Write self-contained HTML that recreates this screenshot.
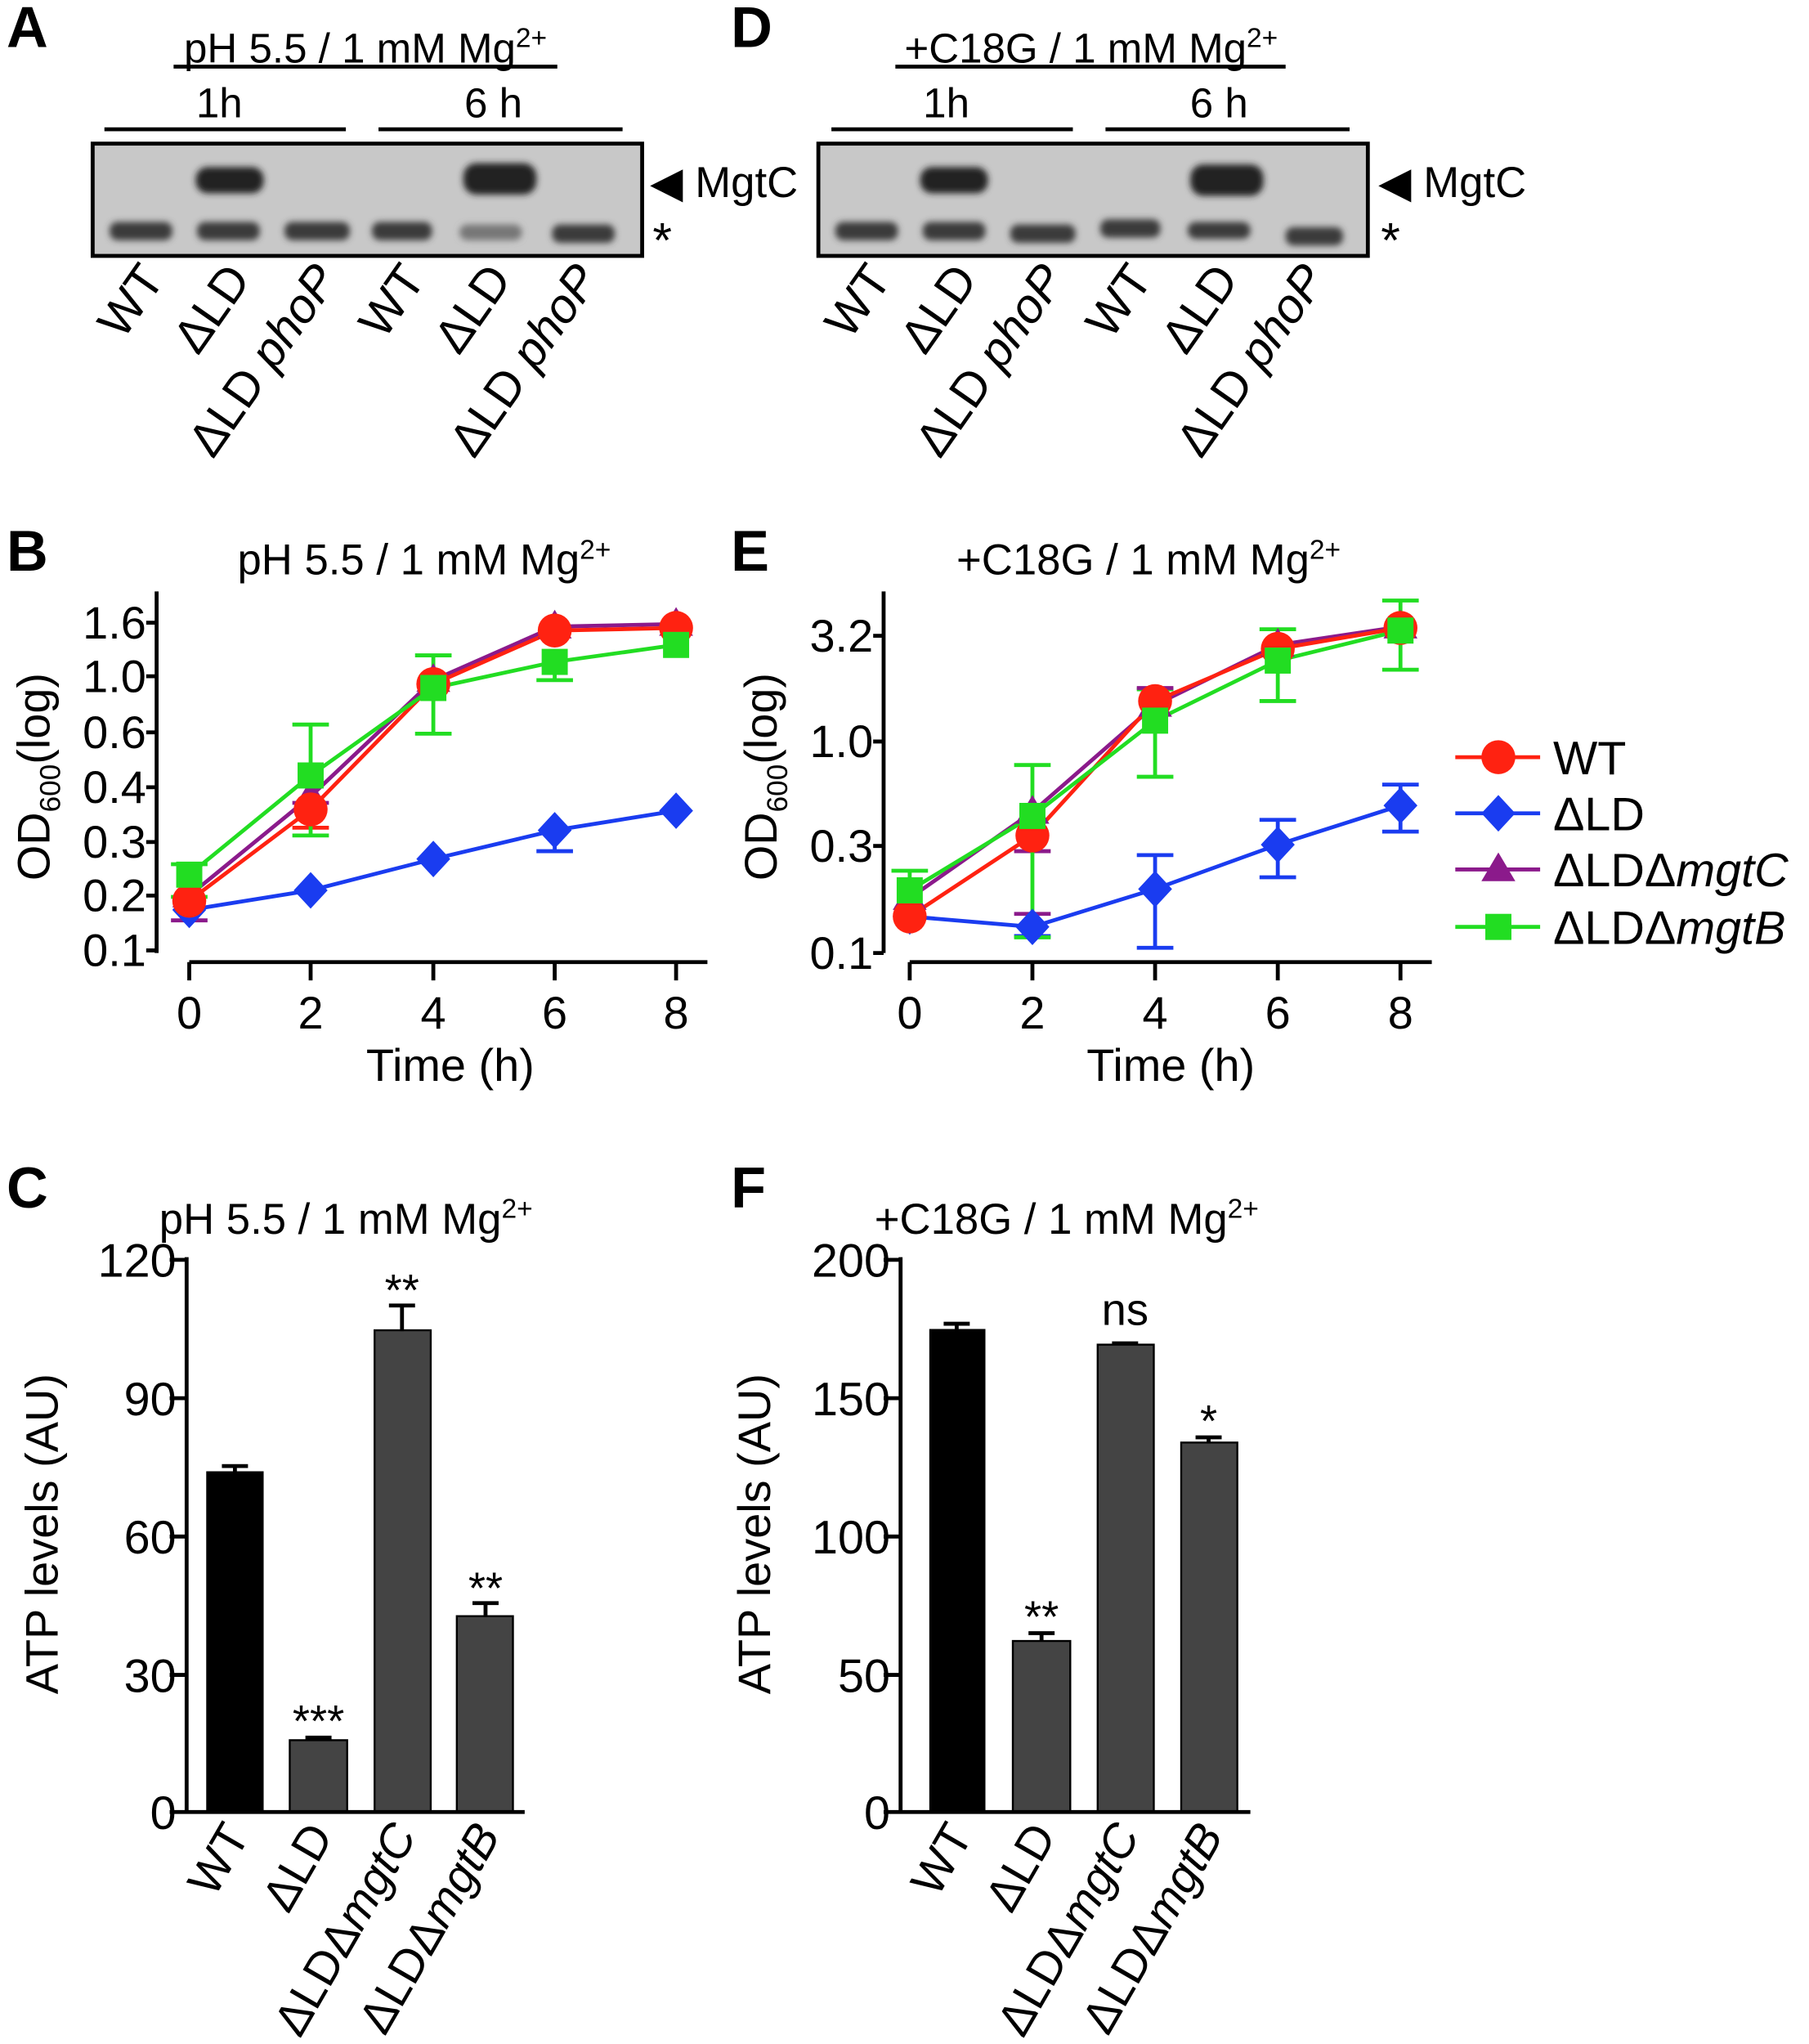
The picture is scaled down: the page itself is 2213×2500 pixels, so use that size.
<!DOCTYPE html><html><head><style>body{margin:0;background:#fff}svg{display:block}text{font-family:"Liberation Sans",Arial,sans-serif;fill:#000}</style></head><body>
<svg width="2213" height="2500" viewBox="0 0 1386 1565.7" xmlns="http://www.w3.org/2000/svg">
<defs><filter id="bl"><feGaussianBlur stdDeviation="2.5"/></filter></defs>
<g font-weight="bold" font-size="44"><text x="5" y="36">A</text><text x="560" y="36">D</text><text x="5" y="437">B</text><text x="560" y="437">E</text><text x="5" y="925">C</text><text x="560" y="925">F</text></g>
<!-- Blot A -->
<g font-size="32">
<text x="280" y="48" text-anchor="middle">pH 5.5 / 1 mM Mg<tspan font-size="21" dy="-12">2+</tspan></text>
<line x1="133" y1="51" x2="427" y2="51" stroke="#000" stroke-width="3"/>
<text x="168" y="90" text-anchor="middle">1h</text><text x="378" y="90" text-anchor="middle">6 h</text>
<line x1="80" y1="99" x2="265" y2="99" stroke="#000" stroke-width="3"/><line x1="290" y1="99" x2="477" y2="99" stroke="#000" stroke-width="3"/>
<rect x="71" y="110" width="421" height="86" fill="#c8c8c8" stroke="#000" stroke-width="3"/>
<g filter="url(#bl)" fill="#3a3a3a"><rect x="84" y="170" width="48" height="14" rx="6"/><rect x="151" y="170" width="48" height="14" rx="6"/><rect x="218" y="170" width="50" height="14" rx="6"/><rect x="285" y="170" width="46" height="14" rx="6"/><rect x="352" y="172" width="48" height="12" rx="6" fill="#777"/><rect x="423" y="172" width="48" height="14" rx="6"/>
<rect x="150" y="128" width="52" height="20" rx="9" fill="#222"/><rect x="355" y="125" width="56" height="24" rx="10" fill="#222"/></g>
<text x="498" y="151" font-size="33">◀ MgtC</text><text x="500" y="197" font-size="38">*</text>
<g font-size="37"><text transform="translate(127,214) rotate(-55)" text-anchor="end">WT</text><text transform="translate(193,214) rotate(-55)" text-anchor="end">ΔLD</text><text transform="translate(260,214) rotate(-55)" text-anchor="end">ΔLD <tspan font-style="italic">phoP</tspan></text><text transform="translate(327,214) rotate(-55)" text-anchor="end">WT</text><text transform="translate(393,214) rotate(-55)" text-anchor="end">ΔLD</text><text transform="translate(460,214) rotate(-55)" text-anchor="end">ΔLD <tspan font-style="italic">phoP</tspan></text></g>
</g>
<!-- Blot D -->
<g font-size="32">
<text x="836" y="48" text-anchor="middle">+C18G / 1 mM Mg<tspan font-size="21" dy="-12">2+</tspan></text>
<line x1="686" y1="51" x2="985" y2="51" stroke="#000" stroke-width="3"/>
<text x="725" y="90" text-anchor="middle">1h</text><text x="934" y="90" text-anchor="middle">6 h</text>
<line x1="637" y1="99" x2="822" y2="99" stroke="#000" stroke-width="3"/><line x1="847" y1="99" x2="1034" y2="99" stroke="#000" stroke-width="3"/>
<rect x="627" y="110" width="421" height="86" fill="#c8c8c8" stroke="#000" stroke-width="3"/>
<g filter="url(#bl)" fill="#3a3a3a"><rect x="640" y="170" width="48" height="14" rx="6"/><rect x="707" y="170" width="48" height="14" rx="6"/><rect x="774" y="172" width="50" height="14" rx="6"/><rect x="843" y="168" width="46" height="14" rx="6"/><rect x="910" y="170" width="48" height="13" rx="6"/><rect x="985" y="174" width="44" height="14" rx="6"/>
<rect x="705" y="128" width="52" height="20" rx="9" fill="#222"/><rect x="912" y="126" width="56" height="24" rx="10" fill="#222"/></g>
<text x="1056" y="151" font-size="33">◀ MgtC</text><text x="1058" y="197" font-size="38">*</text>
<g font-size="37"><text transform="translate(684,214) rotate(-55)" text-anchor="end">WT</text><text transform="translate(750,214) rotate(-55)" text-anchor="end">ΔLD</text><text transform="translate(817,214) rotate(-55)" text-anchor="end">ΔLD <tspan font-style="italic">phoP</tspan></text><text transform="translate(884,214) rotate(-55)" text-anchor="end">WT</text><text transform="translate(950,214) rotate(-55)" text-anchor="end">ΔLD</text><text transform="translate(1017,214) rotate(-55)" text-anchor="end">ΔLD <tspan font-style="italic">phoP</tspan></text></g>
</g>
<!-- Panel B -->
<g font-size="33" stroke-width="3">
<text x="325" y="440" text-anchor="middle">pH 5.5 / 1 mM Mg<tspan font-size="21" dy="-12">2+</tspan></text>
<path d="M120 453V730M112 477H120M112 518H120M112 561H120M112 603H120M112 645H120M112 686H120M112 728H120" stroke="#000"/>
<g text-anchor="end" font-size="35"><text x="112" y="489">1.6</text><text x="112" y="530">1.0</text><text x="112" y="573">0.6</text><text x="112" y="615">0.4</text><text x="112" y="657">0.3</text><text x="112" y="698">0.2</text><text x="112" y="740">0.1</text></g>
<path d="M145 737H542M145 737v14M238 737v14M332 737v14M425 737v14M518 737v14" stroke="#000"/>
<g text-anchor="middle" font-size="35"><text x="145" y="788">0</text><text x="238" y="788">2</text><text x="332" y="788">4</text><text x="425" y="788">6</text><text x="518" y="788">8</text><text x="345" y="828">Time (h)</text></g>
<text transform="translate(38,595) rotate(-90)" text-anchor="middle" font-size="35">OD<tspan font-size="22" dy="8">600</tspan><tspan dy="-8">(log)</tspan></text>
<path d="M131 705H159M145 705V680M224 615H252M238 615V600" stroke="#8b1a8b"/>
<path d="M224 634H252M238 634V620" stroke="#f21"/>
<path d="M411 652H439M425 652V636" stroke="#1a3cf0"/>
<path d="M131 662H159M131 687H159M145 662V687M224 555H252M224 640H252M238 555V640M318 502H346M318 562H346M332 502V562M411 521H439M425 507V521" stroke="#2d2" />
<polyline points="145,697 238,682 332,658 425,636 518,621" fill="none" stroke="#1a3cf0"/>
<polyline points="145,686 238,610 332,521 425,480 518,478" fill="none" stroke="#8b1a8b"/>
<polyline points="145,690 238,620 332,524 425,483 518,481" fill="none" stroke="#f21"/>
<polyline points="145,670 238,594 332,527 425,507 518,494" fill="none" stroke="#2d2"/>
<g fill="#1a3cf0"><path d="M145 683l13 14-13 14-13-14z"/><path d="M238 668l13 14-13 14-13-14z"/><path d="M332 644l13 14-13 14-13-14z"/><path d="M425 622l13 14-13 14-13-14z"/><path d="M518 607l13 14-13 14-13-14z"/></g>
<g fill="#8b1a8b"><path d="M145 673l13 22h-26z"/><path d="M238 597l13 22h-26z"/><path d="M332 508l13 22h-26z"/><path d="M425 467l13 22h-26z"/><path d="M518 465l13 22h-26z"/></g>
<g fill="#f21"><circle cx="145" cy="690" r="13"/><circle cx="238" cy="620" r="13"/><circle cx="332" cy="524" r="13"/><circle cx="425" cy="483" r="13"/><circle cx="518" cy="481" r="13"/></g>
<g fill="#2d2"><rect x="135" y="660" width="20" height="20"/><rect x="228" y="584" width="20" height="20"/><rect x="322" y="517" width="20" height="20"/><rect x="415" y="497" width="20" height="20"/><rect x="508" y="484" width="20" height="20"/></g>
</g>
<!-- Panel E -->
<g font-size="33" stroke-width="3">
<text x="880" y="440" text-anchor="middle">+C18G / 1 mM Mg<tspan font-size="21" dy="-12">2+</tspan></text>
<path d="M677 453V730M669 487H677M669 568H677M669 648H677M669 730H677" stroke="#000"/>
<g text-anchor="end" font-size="35"><text x="669" y="499">3.2</text><text x="669" y="580">1.0</text><text x="669" y="660">0.3</text><text x="669" y="742">0.1</text></g>
<path d="M697 737H1097M697 737v14M791 737v14M885 737v14M979 737v14M1073 737v14" stroke="#000"/>
<g text-anchor="middle" font-size="35"><text x="697" y="788">0</text><text x="791" y="788">2</text><text x="885" y="788">4</text><text x="979" y="788">6</text><text x="1073" y="788">8</text><text x="897" y="828">Time (h)</text></g>
<text transform="translate(595,595) rotate(-90)" text-anchor="middle" font-size="35">OD<tspan font-size="22" dy="8">600</tspan><tspan dy="-8">(log)</tspan></text>
<path d="M777 652H805M791 622V652M777 700H805" stroke="#8b1a8b"/>
<path d="M777 717H805M791 710V717M871 655H899M871 726H899M885 655V726M965 628H993M965 672H993M979 628V672M1059 601H1087M1059 637H1087M1073 601V637" stroke="#1a3cf0"/>
<path d="M683 667H711M697 667V700M777 586H805M777 718H805M791 586V718M871 528H899M871 595H899M885 528V595M965 482H993M965 537H993M979 482V537M1059 460H1087M1059 513H1087M1073 460V513" stroke="#2d2"/>
<path d="M871 527H899" stroke="#8b1a8b"/>
<polyline points="697,702 791,710 885,681 979,647 1073,617" fill="none" stroke="#1a3cf0"/>
<polyline points="697,688 791,622 885,540 979,494 1073,480" fill="none" stroke="#8b1a8b"/>
<polyline points="697,702 791,640 885,537 979,497 1073,481" fill="none" stroke="#f21"/>
<polyline points="697,682 791,625 885,552 979,506 1073,483" fill="none" stroke="#2d2"/>
<g fill="#1a3cf0"><path d="M697 688l13 14-13 14-13-14z"/><path d="M791 696l13 14-13 14-13-14z"/><path d="M885 667l13 14-13 14-13-14z"/><path d="M979 633l13 14-13 14-13-14z"/><path d="M1073 603l13 14-13 14-13-14z"/></g>
<g fill="#8b1a8b"><path d="M697 675l13 22h-26z"/><path d="M791 609l13 22h-26z"/><path d="M885 527l13 22h-26z"/><path d="M979 481l13 22h-26z"/><path d="M1073 467l13 22h-26z"/></g>
<g fill="#f21"><circle cx="697" cy="702" r="13"/><circle cx="791" cy="640" r="13"/><circle cx="885" cy="537" r="13"/><circle cx="979" cy="497" r="13"/><circle cx="1073" cy="481" r="13"/></g>
<g fill="#2d2"><rect x="687" y="672" width="20" height="20"/><rect x="781" y="615" width="20" height="20"/><rect x="875" y="542" width="20" height="20"/><rect x="969" y="496" width="20" height="20"/><rect x="1063" y="473" width="20" height="20"/></g>
</g>
<!-- Legend -->
<g font-size="36" stroke-width="3">
<path d="M1115 580H1180" stroke="#f21"/><circle cx="1148" cy="580" r="13" fill="#f21"/><text x="1190" y="593">WT</text>
<path d="M1115 623H1180" stroke="#1a3cf0"/><path d="M1148 609l13 14-13 14-13-14z" fill="#1a3cf0"/><text x="1190" y="636">ΔLD</text>
<path d="M1115 666H1180" stroke="#8b1a8b"/><path d="M1148 653l13 22h-26z" fill="#8b1a8b"/><text x="1190" y="679">ΔLDΔ<tspan font-style="italic">mgtC</tspan></text>
<path d="M1115 710H1180" stroke="#2d2"/><rect x="1138" y="700" width="20" height="20" fill="#2d2"/><text x="1190" y="723">ΔLDΔ<tspan font-style="italic">mgtB</tspan></text>
</g>
<!-- Panel C -->
<g font-size="33" stroke-width="3">
<text x="122" y="945">pH 5.5 / 1 mM Mg<tspan font-size="21" dy="-12">2+</tspan></text>
<g font-size="36" text-anchor="end"><text x="135" y="978">120</text><text x="135" y="1084">90</text><text x="135" y="1190">60</text><text x="135" y="1296">30</text><text x="135" y="1401">0</text></g>
<text transform="translate(44,1175) rotate(-90)" text-anchor="middle" font-size="35">ATP levels (AU)</text>
<rect x="158" y="1127" width="44" height="261" fill="#000"/>
<g fill="#444" stroke="#000" stroke-width="1.5"><rect x="222" y="1333" width="44" height="55"/><rect x="287" y="1019" width="43" height="369"/><rect x="350" y="1238" width="43" height="150"/></g>
<path d="M180 1127V1123M170 1123H190M244 1333V1331M234 1331H254M308 1019V1000M298 1000H318M372 1238V1228M362 1228H382" stroke="#000"/>
<path d="M143 963V1388H402M130 965H143M130 1071H143M130 1177H143M130 1283H143M130 1388H143" stroke="#000" fill="none"/>
<g text-anchor="middle" font-size="34"><text x="244" y="1330">***</text><text x="308" y="1000">**</text><text x="372" y="1228">**</text></g>
<g font-size="36"><text transform="translate(192,1406) rotate(-60)" text-anchor="end">WT</text><text transform="translate(256,1406) rotate(-60)" text-anchor="end">ΔLD</text><text transform="translate(320,1406) rotate(-60)" text-anchor="end">ΔLDΔ<tspan font-style="italic">mgtC</tspan></text><text transform="translate(384,1406) rotate(-60)" text-anchor="end">ΔLDΔ<tspan font-style="italic">mgtB</tspan></text></g>
</g>
<!-- Panel F -->
<g font-size="33" stroke-width="3">
<text x="670" y="945">+C18G / 1 mM Mg<tspan font-size="21" dy="-12">2+</tspan></text>
<g font-size="36" text-anchor="end"><text x="682" y="978">200</text><text x="682" y="1084">150</text><text x="682" y="1190">100</text><text x="682" y="1296">50</text><text x="682" y="1401">0</text></g>
<text transform="translate(590,1175) rotate(-90)" text-anchor="middle" font-size="35">ATP levels (AU)</text>
<rect x="712" y="1018" width="43" height="370" fill="#000"/>
<g fill="#444" stroke="#000" stroke-width="1.5"><rect x="776" y="1257" width="44" height="131"/><rect x="841" y="1030" width="43" height="358"/><rect x="905" y="1105" width="43" height="283"/></g>
<path d="M733 1018V1014M723 1014H743M798 1257V1251M788 1251H808M862 1030V1029M852 1029H872M926 1105V1101M916 1101H936" stroke="#000"/>
<path d="M690 963V1388H958M677 965H690M677 1071H690M677 1177H690M677 1283H690M677 1388H690" stroke="#000" fill="none"/>
<g text-anchor="middle" font-size="34"><text x="798" y="1250">**</text><text x="862" y="1015">ns</text><text x="926" y="1100">*</text></g>
<g font-size="36"><text transform="translate(746,1406) rotate(-60)" text-anchor="end">WT</text><text transform="translate(810,1406) rotate(-60)" text-anchor="end">ΔLD</text><text transform="translate(874,1406) rotate(-60)" text-anchor="end">ΔLDΔ<tspan font-style="italic">mgtC</tspan></text><text transform="translate(938,1406) rotate(-60)" text-anchor="end">ΔLDΔ<tspan font-style="italic">mgtB</tspan></text></g>
</g>
</svg></body></html>
